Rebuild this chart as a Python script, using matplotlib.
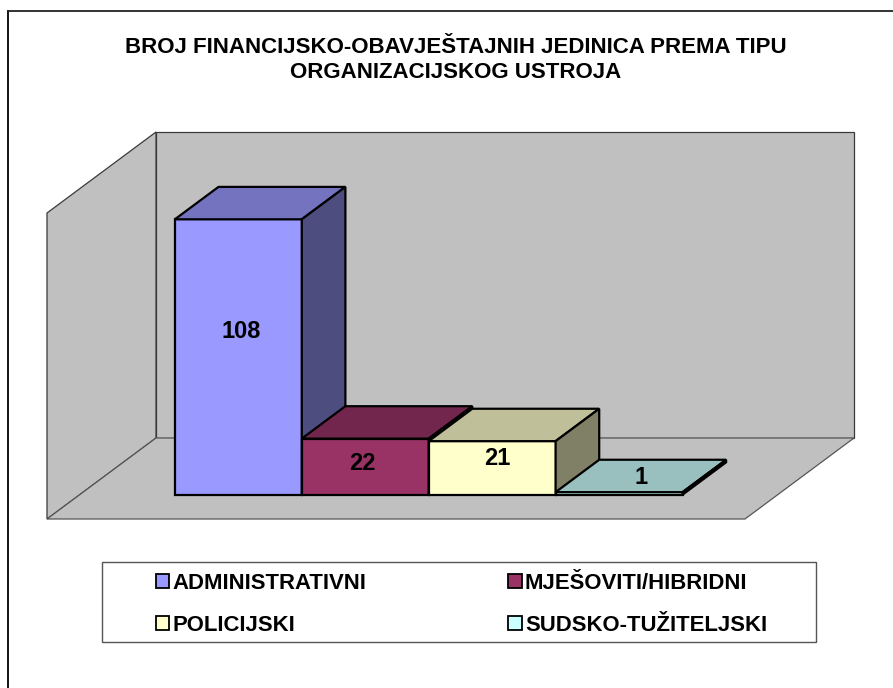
import numpy as np
import matplotlib
matplotlib.use("Agg")
import matplotlib.pyplot as plt
from matplotlib.patches import Polygon, Rectangle, Patch
from matplotlib.lines import Line2D

plt.rcParams['font.family'] = ['Liberation Sans', 'DejaVu Sans']
plt.rcParams['font.weight'] = 'bold'

# data
categories = ["ADMINISTRATIVNI", "MJEŠOVITI/HIBRIDNI", "POLICIJSKI", "SUDSKO-TUŽITELJSKI"]
values = [108, 22, 21, 1]
colors = ["#9999FF", "#993366", "#FFFFCC", "#CCFFFF"]
title = "BROJ FINANCIJSKO-OBAVJEŠTAJNIH JEDINICA PREMA TIPU\nORGANIZACIJSKOG USTROJA"

W, H = 893, 688
fig = plt.figure(figsize=(W / 100, H / 100), dpi=100)

# front plane of the 3d box (pixels)
L, R, T, B = 47, 745, 213, 519
ax = fig.add_axes([L / W, 1 - B / H, (R - L) / W, (B - T) / H])
XMAX, YMAX = 5.5, 120
ax.set_xlim(0, XMAX)
ax.set_ylim(0, YMAX)
ax.axis('off')

# depth vector in data units
DX = 109 / (R - L) * XMAX
DY = 81 / (B - T) * YMAX


def proj(x, y, d):
    return (x + d * DX, y + d * DY)


def face(pts, fc, ec, lw, z):
    ax.add_patch(Polygon([proj(*p) for p in pts], closed=True, facecolor=fc,
                         edgecolor=ec, linewidth=lw, clip_on=False, zorder=z,
                         joinstyle='miter'))


wall = "#C0C0C0"
wall_ec = "#3a3a3a"
face([(0, 0, 1), (XMAX, 0, 1), (XMAX, YMAX, 1), (0, YMAX, 1)], wall, wall_ec, 0.9, 1)
face([(0, 0, 0), (0, 0, 1), (0, YMAX, 1), (0, YMAX, 0)], wall, wall_ec, 0.9, 1)
face([(0, 0, 0), (XMAX, 0, 0), (XMAX, 0, 1), (0, 0, 1)], wall, "#555555", 0.9, 1)


def shade(c, f):
    rgb = np.array(matplotlib.colors.to_rgb(c)) * f
    return tuple(rgb)


d0, d1 = 0.3, 0.7
for i, (v, c) in enumerate(zip(values, colors)):
    x0 = 0.75 + i
    x1 = x0 + 1
    z = 2 + i
    face([(x0, 0, d0), (x1, 0, d0), (x1, v, d0), (x0, v, d0)], c, "black", 1.6, z)
    face([(x0, v, d0), (x1, v, d0), (x1, v, d1), (x0, v, d1)], shade(c, 0.75), "black", 1.6, z)
    face([(x1, 0, d0), (x1, 0, d1), (x1, v, d1), (x1, v, d0)], shade(c, 0.5), "black", 1.6, z)

# value labels (offsets in points from the front face centre)
label_off = [(2, 18), (-2, 2), (4, 7), (16, 11.5)]
for i, v in enumerate(values):
    x0 = 0.75 + i
    ax.annotate(str(v), xy=proj(x0 + 0.5, v / 2, d0), xytext=label_off[i],
                textcoords='offset points', ha='center', va='center',
                fontsize=17, fontweight='bold', zorder=10, annotation_clip=False)

# title
fig.text(456 / W, 1 - 60 / H, title, ha='center', va='center', fontsize=16,
         fontweight='bold', linespacing=1.28)

# outer chart border (right/bottom run off the image)
fig.add_artist(Line2D([8 / W, 8 / W], [0, 1 - 11 / H], color='black', lw=1.3))
fig.add_artist(Line2D([8 / W, 1], [1 - 11 / H, 1 - 11 / H], color='#222222', lw=1.3))

# legend
fig.add_artist(Rectangle((102 / W, 1 - 642 / H), 714 / W, 80 / H, transform=fig.transFigure,
                         facecolor='white', edgecolor='#555555', lw=1))
order = [0, 2, 1, 3]
handles = [Patch(facecolor=colors[k], edgecolor='black', lw=1.3) for k in order]
labels = [categories[k] for k in order]
fig.legend(handles, labels, ncol=2, mode='expand', loc='center',
           bbox_to_anchor=(156 / W, 1 - 640 / H, (767 - 156) / W, 71 / H),
           frameon=False, fontsize=15.9, borderpad=0, borderaxespad=0,
           handlelength=0.6, handleheight=0.6, handletextpad=0.15,
           labelspacing=0.95, columnspacing=1.0)

fig.savefig("out.png", dpi=100)
